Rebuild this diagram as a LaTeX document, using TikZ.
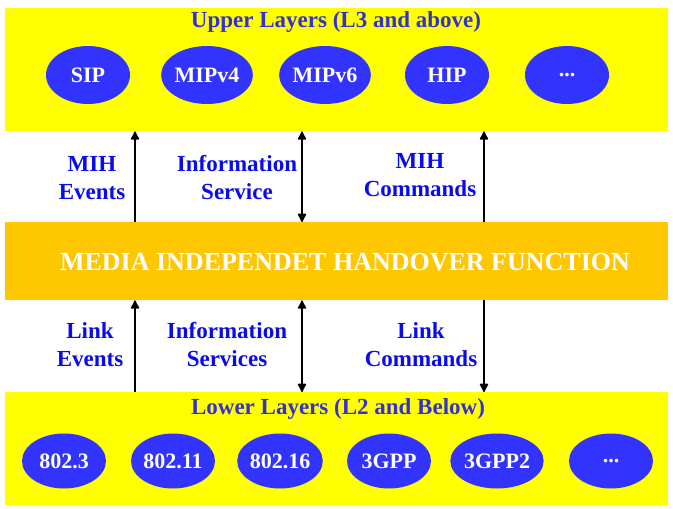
\documentclass[tikz,border=0pt]{standalone}
\usepackage{fontspec}
\setmainfont{Liberation Serif}
\usetikzlibrary{arrows.meta,shapes.geometric}
\definecolor{layeryellow}{RGB}{255,255,0}
\definecolor{mihorange}{RGB}{255,199,0}
\definecolor{protoblue}{RGB}{51,51,255}
\definecolor{titleblue}{RGB}{51,51,204}
\definecolor{labelblue}{RGB}{10,10,240}
\newcommand{\moredots}{...}
\tikzset{
  band/.style={fill=#1,draw=none,inner sep=0pt,anchor=north west},
  proto/.style={ellipse,fill=protoblue,draw=none,text=white,inner sep=0pt,
    minimum width=84pt,font=\fontsize{22}{26}\selectfont\bfseries},
  bandtitle/.style={text=titleblue,font=\fontsize{23}{28}\selectfont\bfseries},
  sap/.style={text=labelblue,align=center,
    font=\fontsize{23}{28}\selectfont\bfseries},
  prim/.style={line width=1.6pt,-{Latex[length=10pt,width=10pt,round]}},
  bothprim/.style={line width=1.6pt,{Latex[length=10pt,width=10pt,round]}-{Latex[length=10pt,width=10pt,round]}}
}

\begin{document}
\begin{tikzpicture}[x=1pt,y=-1pt]
  \useasboundingbox (0,0) rectangle (673,509);

  % the three layers
  \node[band=layeryellow,minimum width=663pt,minimum height=123pt] (upper) at (5,8) {};
  \node[band=mihorange,minimum width=663pt,minimum height=78pt] (mihf) at (5,222) {};
  \node[band=layeryellow,minimum width=663pt,minimum height=113pt] (lower) at (5,392) {};

  \node[bandtitle] (uptitle) at (336,22) {Upper Layers (L3 and above)};
  \node[text=white,font=\fontsize{26}{30}\selectfont\bfseries] (mihtitle)
    at (345,262) {MEDIA INDEPENDET HANDOVER FUNCTION};
  \node[bandtitle] (lowtitle) at (338,409) {Lower Layers (L2 and Below)};

  % protocols above and links below
  \foreach \px/\name/\txt in {88/sip/SIP,207/mipfour/MIPv4,325/mipsix/MIPv6,
      447/hip/HIP,567/updots/\moredots}
    \node[proto,minimum height=58pt] (\name) at (\px,75) {\txt};
  \foreach \px/\name/\txt in {64/eth/802.3,173/wlan/802.11,280/wimax/802.16,
      389/tgpp/3GPP,497/tgpptwo/3GPP2,611/lowdots/\moredots}
    \node[proto,minimum height=55pt] (\name) at (\px,461) {\txt};

  % service access points
  \coordinate (evx) at (135,0);
  \coordinate (isx) at (302,0);
  \coordinate (cmdx) at (484,0);

  \draw[prim] (mihf.north -| evx) -- (upper.south -| evx);
  \draw[bothprim] (mihf.north -| isx) -- (upper.south -| isx);
  \draw[prim] (mihf.north -| cmdx) -- (upper.south -| cmdx);

  \draw[prim] (lower.north -| evx) -- (mihf.south -| evx);
  \draw[bothprim] (lower.north -| isx) -- (mihf.south -| isx);
  \draw[prim] (mihf.south -| cmdx) -- (lower.north -| cmdx);

  \node[sap] (mihev) at (92,178) {MIH\\Events};
  \node[sap] (mihis) at (237,178) {Information\\Service};
  \node[sap] (mihcmd) at (420,175) {MIH\\Commands};
  \node[sap] (linkev) at (90,345) {Link\\Events};
  \node[sap] (linkis) at (227,345) {Information\\Services};
  \node[sap] (linkcmd) at (421,345) {Link\\Commands};
\end{tikzpicture}
\end{document}
